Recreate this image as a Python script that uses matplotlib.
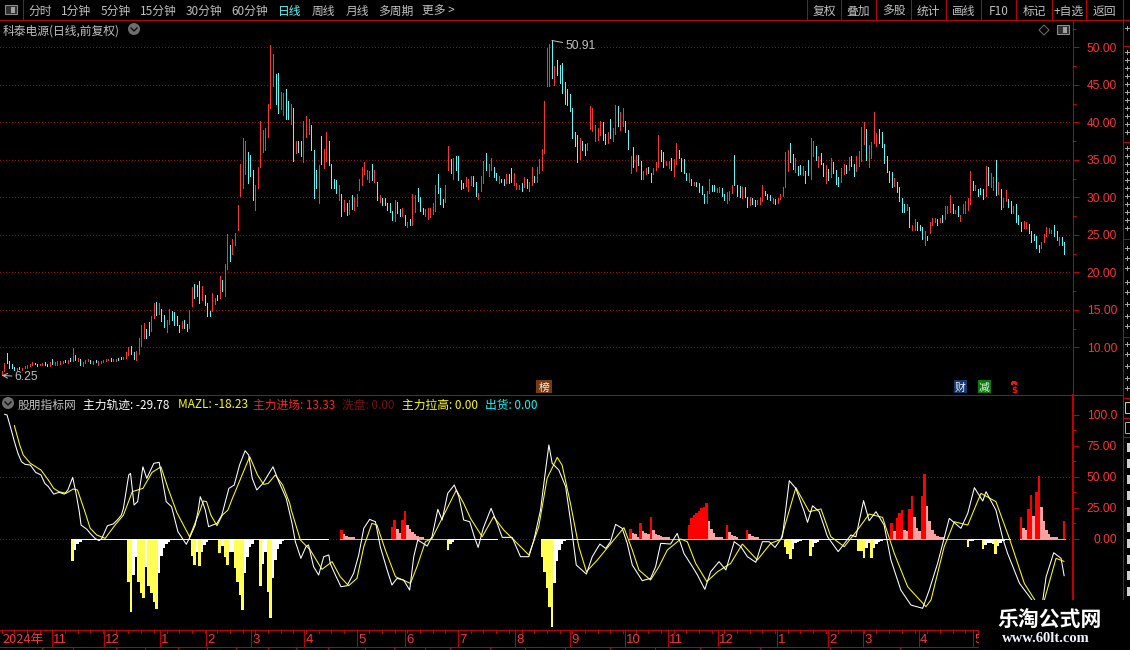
import matplotlib
matplotlib.use("Agg")
import matplotlib.pyplot as plt
from matplotlib.patches import Circle, Polygon, Rectangle

W, H = 1130, 650
CJK = ["Noto Sans CJK SC", "DejaVu Sans"]
NUM = ["Liberation Sans", "Noto Sans CJK SC"]
PX = 0.72  # one pixel in points at dpi 100

RED = "#ff3232"
AXIS_RED = "#c00000"
GRID_RED = "#a00000"
CYAN = "#54fcfc"
GREY = "#c0c0c0"

# candles
bar_low = [
    6.25,6.8,7.9,7.3,7.25,7.0,7.0,7.1,7.0,7.25,
    7.3,7.5,7.65,7.8,7.5,7.65,7.7,7.65,7.5,7.5,
    7.8,7.65,7.65,7.8,7.9,8.05,7.9,8.2,8.2,8.3,
    8.2,7.65,7.5,7.9,8.2,7.9,7.8,8.05,7.65,7.9,
    8.05,8.2,8.3,8.2,8.2,8.2,8.3,8.45,8.45,8.6,
    9.0,9.1,8.45,8.3,9.1,10.2,11.25,11.25,11.65,12.15,
    13.9,14.3,14.4,13.5,12.7,12.05,13.1,13.6,12.95,12.95,
    12.05,12.55,12.55,12.15,12.55,15.5,16.55,16.8,15.9,16.3,
    15.6,14.15,14.15,14.8,15.75,16.3,16.55,17.5,16.8,20.4,
    21.45,22.5,23.6,25.65,30.2,31.2,33.05,31.85,32.8,29.6,
    28.3,31.3,34.0,36.1,36.25,38.0,41.95,44.85,42.5,41.3,
    41.8,41.0,40.5,40.5,39.8,34.8,35.85,36.1,35.45,34.65,
    38.1,38.5,36.25,29.85,31.2,29.2,34.4,33.85,34.9,34.25,
    31.2,31.2,30.55,29.6,27.5,28.15,27.6,27.75,28.4,28.3,
    28.8,30.95,31.7,33.05,32.4,32.0,32.25,32.1,29.6,29.35,
    28.95,28.95,28.3,28.0,26.95,26.8,27.9,27.5,27.5,26.3,
    26.0,26.3,26.3,28.0,29.45,28.15,27.75,27.5,27.1,27.35,
    27.75,28.15,30.55,29.1,28.7,29.35,33.7,33.3,32.5,33.7,
    32.25,31.05,31.2,31.45,30.8,31.6,31.45,30.15,29.75,30.8,
    31.85,33.6,32.8,33.6,32.65,32.25,31.85,32.0,31.6,31.85,
    31.85,32.0,31.7,31.05,31.05,30.8,31.35,31.2,30.8,31.7,
    32.1,32.0,33.2,33.7,35.85,44.85,44.85,45.95,45.0,46.3,
    45.25,43.95,42.5,42.35,41.55,37.85,36.9,34.65,35.05,36.35,
    35.6,36.35,39.1,38.9,37.55,37.7,38.25,37.7,37.15,37.3,
    37.95,37.45,38.5,39.55,39.0,39.55,38.75,36.5,33.3,34.0,
    33.45,34.25,32.4,32.5,33.05,33.2,32.1,33.05,33.6,34.0,
    34.9,34.1,34.25,33.85,33.7,32.9,34.5,35.2,33.45,33.3,
    32.25,32.1,31.7,31.6,31.45,30.65,30.4,29.2,29.2,30.55,
    30.8,30.8,30.65,30.65,30.15,29.6,29.2,29.6,30.55,31.7,
    30.15,30.0,29.85,30.0,28.65,28.95,29.05,28.8,29.05,29.05,
    29.45,30.25,29.75,29.6,29.3,29.05,29.2,29.75,30.15,31.4,
    33.55,34.75,33.8,33.4,33.0,33.15,33.0,31.95,33.0,32.5,
    35.55,35.0,34.05,34.45,32.9,31.95,32.35,32.75,33.25,31.8,
    31.55,32.1,33.15,33.25,33.65,34.2,32.9,33.55,34.2,34.85,
    37.1,35.0,34.05,35.25,37.25,36.85,37.25,36.7,34.6,33.4,
    32.1,31.4,31.55,30.75,29.55,28.1,28.1,28.35,26.1,25.6,
    25.6,25.7,25.6,24.5,23.7,24.25,25.2,26.25,26.65,26.35,
    26.65,26.75,27.15,27.85,28.1,27.95,27.85,27.55,26.9,27.95,
    27.85,28.35,29.15,31.0,31.0,30.2,30.5,29.8,30.2,31.7,
    31.4,31.0,30.35,30.5,28.5,28.65,29.55,28.75,27.95,27.95,
    26.75,26.5,25.45,25.85,25.85,25.2,24.1,24.25,23.2,22.65,
    23.2,24.0,24.9,25.2,25.2,24.8,24.25,23.7,23.6,22.4,
]
bar_high = [
    6.8,7.9,9.2,8.2,7.8,7.4,7.25,7.4,7.25,7.5,
    7.65,7.8,8.05,7.9,7.8,7.8,7.85,8.05,7.8,8.05,
    8.45,8.05,8.2,8.2,8.2,8.3,8.3,8.6,9.9,9.0,
    8.6,8.45,8.05,8.3,8.45,8.3,8.2,8.3,8.2,8.2,
    8.3,8.45,8.45,8.6,8.45,8.45,8.6,8.7,8.7,9.4,
    10.05,10.2,9.4,9.5,11.25,12.95,13.25,12.45,13.35,14.15,
    15.9,16.0,15.9,15.1,14.3,13.6,15.1,14.8,14.7,14.15,
    12.95,13.5,13.6,13.1,14.95,18.0,18.4,18.3,18.8,18.15,
    16.95,15.9,14.8,17.2,16.55,16.95,19.45,18.95,21.05,25.05,
    23.6,24.5,25.3,28.95,34.5,37.85,37.45,36.0,35.6,33.7,
    31.7,34.0,40.2,39.0,39.3,42.5,50.3,49.1,46.45,46.6,
    44.05,43.95,44.45,42.9,42.5,41.95,37.55,37.55,37.55,40.2,
    40.9,40.5,39.7,36.25,33.6,34.25,38.2,36.5,38.65,37.55,
    34.4,32.4,32.25,31.7,30.4,29.6,29.2,29.6,30.25,30.0,
    30.4,32.5,34.0,34.65,33.7,33.45,34.4,33.6,32.0,30.25,
    29.85,29.85,29.2,29.2,28.15,29.6,29.35,28.4,28.55,27.6,
    26.7,27.1,30.4,30.25,31.2,30.0,28.55,28.4,28.55,28.55,
    29.2,31.6,33.05,31.3,29.75,31.6,36.8,35.05,35.3,35.45,
    35.45,32.25,31.85,32.65,32.4,32.8,32.9,32.0,30.55,32.8,
    34.9,35.85,34.5,35.2,34.0,33.2,32.9,32.5,32.5,33.05,
    33.05,33.85,33.3,31.85,31.7,31.85,32.65,32.5,32.0,34.0,
    32.9,34.1,35.05,36.5,42.9,49.9,50.45,50.91,47.5,48.3,
    47.65,47.9,45.4,44.45,43.8,41.95,38.65,38.25,37.95,37.55,
    37.05,37.3,42.2,41.95,39.7,39.3,40.2,40.1,38.5,38.75,
    40.5,39.3,42.35,42.2,41.4,41.95,40.2,39.0,35.45,36.65,
    35.6,35.6,34.8,33.45,33.85,34.0,33.3,33.85,34.65,38.35,
    36.35,36.1,34.9,34.8,35.3,35.05,37.3,36.25,35.3,35.05,
    33.2,33.3,32.5,32.1,32.0,31.85,31.45,30.4,30.8,32.4,
    31.7,31.6,31.2,31.35,31.2,30.4,30.65,30.8,31.6,35.7,
    31.7,31.45,31.35,31.35,30.0,30.0,29.85,29.6,29.6,30.0,
    31.6,30.8,30.4,30.25,29.85,29.75,29.85,30.4,31.35,36.05,
    36.35,37.25,35.8,35.25,34.2,34.35,34.2,33.55,35.0,37.9,
    37.5,36.85,35.55,35.95,34.6,34.35,33.8,35.25,34.75,33.65,
    32.75,33.95,34.45,34.35,35.4,35.55,34.45,35.55,36.2,39.4,
    40.05,39.1,37.0,37.4,41.35,38.6,39.1,38.7,37.1,35.55,
    33.55,33.4,32.6,32.1,31.4,29.95,29.15,29.15,28.75,26.35,
    27.05,26.65,26.35,26.1,25.45,24.9,26.75,27.3,27.3,27.05,
    27.3,27.7,28.9,28.9,30.35,29.05,28.35,28.9,27.7,29.05,
    29.55,29.95,33.55,32.2,31.7,31.15,31.3,31.15,34.2,34.05,
    33.25,32.75,35.0,32.1,31.15,29.95,31.0,29.8,29.55,28.9,
    29.05,27.7,26.75,26.9,26.65,26.5,25.45,25.05,24.8,23.6,
    24.0,25.05,26.1,25.85,25.7,26.25,25.45,24.65,24.65,24.0,
]
bar_up = [
    1,1,0,0,0,0,1,0,1,1, 1,1,1,0,0,1,1,0,0,1, 0,1,1,1,1,0,1,0,1,0,
    1,0,1,1,1,0,1,0,1,1, 1,1,1,0,1,1,0,0,1,1, 1,0,0,1,1,1,1,0,0,1,
    1,0,1,0,0,1,1,0,0,0, 0,1,0,0,1,1,0,0,0,1, 0,0,0,1,1,0,1,0,1,1,
    0,1,1,1,1,1,1,0,0,0, 1,1,1,1,1,1,1,1,0,0, 1,1,0,0,1,0,1,0,0,1,
    1,1,0,0,0,1,0,1,1,0, 0,0,0,1,0,1,0,1,0,1, 1,1,1,1,1,1,0,1,0,1,
    0,0,0,0,0,1,0,0,1,0, 1,0,1,1,0,0,0,1,1,1, 1,1,0,0,0,1,1,0,1,0,
    0,0,0,1,1,1,0,0,1,1, 1,0,1,1,0,0,1,0,0,1, 0,0,1,1,1,0,1,0,1,1,
    0,1,1,1,1,1,1,0,1,0, 0,0,0,0,0,0,0,0,1,0, 0,1,1,1,1,1,1,0,0,1,
    0,1,1,0,1,1,0,0,1,0, 1,0,0,1,1,0,0,1,1,1, 0,0,1,1,0,1,1,0,0,0,
    0,1,0,1,0,0,0,0,1,1, 0,0,1,1,0,0,1,1,1,0, 0,0,1,0,0,1,0,0,1,1,
    1,0,0,0,1,0,1,1,1,1, 1,0,0,1,0,0,1,0,0,1, 1,0,1,0,0,1,0,1,0,0,
    0,1,1,0,1,0,0,1,1,1, 1,0,1,1,1,1,0,0,0,0, 0,0,1,0,0,0,0,1,0,1,
    1,0,0,0,1,0,1,1,1,0, 1,0,1,1,1,0,1,0,1,1, 1,1,1,0,1,0,0,0,1,0,
    1,1,0,1,0,1,1,0,0,1, 0,0,0,1,1,0,0,0,0,0, 1,1,1,1,1,0,0,1,0,0,
]
low_price = 6.25
high_price = 50.91
y_ticks = [10, 15, 20, 25, 30, 35, 40, 45, 50]
y_tick_labels = ["10.00", "15.00", "20.00", "25.00", "30.00", "35.00", "40.00", "45.00", "50.00"]

# indicator pane
main_x = [
    1.2,2.1,3.6,5,6.4,7.8,9.2,11.3,13.4,15.5,17,18.4,20.5,22.6,24.7,26.1,28,29.4,30.6,31.3,
    33.6,34.9,36.8,38.4,39.5,41.7,44,46,47.2,48,50.1,50.8,52.2,53.6,55.7,57.2,60,62.1,63.5,64.9,
    67,69.5,72.8,74.3,76.3,77.5,78.3,79.5,80.3,81.6,84.9,86.8,89.6,91.7,93.8,96,97.4,98.8,100.6,103,
    107,109.3,112.2,114.5,115.8,118,120,121,123,125,127,129,129.6,131.6,133.8,136.2,138.8,140.8,142.8,145.1,
    147.4,149.3,152,153.9,155.9,158.5,160.9,162.5,164.1,167.8,169.7,172,173.7,175.9,178.5,180.3,182.2,184.6,186.4,187.9,
    189.9,193,195.4,197.4,201.3,204.6,207.9,209.9,212.5,214.5,215.8,217.1,219.7,222.4,224.3,226.6,230.6,232.9,235.9,238.2,
    240.1,242.1,244.7,246.7,248.7,252.6,255.9,257.9,259.9,263.8,266.4,269.1,272.4,274.4,277.3,279.6,282.9,285.6,288.9,291.5,
    294.1,297.4,300,302.7,305,307.9,310.6,313.2,316.5,317.8,319.8,322.4,325.7,329.9,334.9,336.9,339.9,342.1,344.8,348,
    350.7,354.6,358.6,363.2,365.8,369.1,373.7,378.3,381,383.6,386.9,388.2,392.1,394.8,396.7,401.4,407.3,408.9,410.6,411.9,
    414.9,417.8,419,
]
main_y = [
    100.3,99.8,89,78.3,68.9,62.1,60,59.4,53.5,51.4,44.6,42,36,37.4,36,39.3,49.5,35.8,21.8,11,
    7.6,4.3,0.3,-1.6,0.3,10.5,11.9,16,19.1,24.5,51.4,52.7,27.2,29.9,58,48.7,60.8,61.6,46,29.9,
    25.8,5.7,-4.5,1.6,11,23,33.9,28,23.1,9.7,12.4,19,40.6,43.3,59.4,71,67.5,48.7,39.3,44.6,
    58,46,32.6,12.4,-2.4,-15.8,-6.4,-5,-22.5,-29.3,-14.5,-13.1,-20,-29.3,-38.7,-37.9,-27.9,-13.1,8.4,15.6,
    13.7,-6.4,-25.2,-37.3,-32,-33.3,-41.4,-14.5,-1,-5.9,1.6,23.7,15.1,36.6,43.3,33.9,15.1,13.7,1.6,-7,
    8.4,24.5,12.4,1.1,1.1,-14.5,-14.5,-1,23.1,55.4,75.6,60.8,55.4,42,15.1,-21.2,-28.5,-14.5,-4.3,-7.8,
    -2.4,11.6,8.4,-3.7,-21.2,-33.8,-32,-22.5,-3.7,-4.3,4.3,-12,-22.5,-29.3,-40.8,-26.6,-18.5,-25.2,-2.4,-6.4,
    -14.5,-19,-2.4,-2.4,-7,1.6,46.8,40.6,21.8,13.2,26.6,21.8,1.6,-10.4,3,1.6,30.7,14.5,21.8,11,
    -17.2,-41.4,-53.5,-56.1,-41.4,-19.9,16.4,8.4,20.5,41.2,30.4,37.9,23.1,0.3,-11.8,-36,-52.1,-57.5,-49.4,-30.6,
    -11.3,-15.8,-29.78,
]
mazl_x = [
    5,7.1,8.5,11.3,15.5,18.4,20.5,22.6,25.4,28.2,29.9,32.6,34.9,37.5,40.8,44.7,48,51.5,55.7,59.3,
    62.8,65.6,69.1,74.1,78.3,79.5,80.8,82.5,84.9,87,89.2,91,97.8,100.9,103.3,105.1,107.9,110.8,113.6,114.2,
    117.8,121.7,126.3,130.3,133.5,136.8,140.1,142.8,146,148,151.3,155.3,161.2,163.8,167.1,169.7,175,179.3,182.2,184.9,
    189.5,194,198,203.3,207.9,211.8,215.1,219.1,221,224.3,227.6,230.6,234.9,241.4,245.4,248.7,251.3,255.9,259.2,262.5,
    267.8,270.4,273.7,278.1,282.3,287.5,292.1,298,303.3,307.3,309.9,313.2,318.5,323.1,327,332.3,337.5,342.1,347.4,352,
    357.3,364.5,366.5,371.7,375.7,381,386.2,392.1,397.4,403.3,407.3,409.3,411.2,415.8,418.9,
]
mazl_y = [
    91.2,75.6,67.5,60.8,55.4,47.3,40.6,37.9,36.6,40.1,39.3,23.1,8.4,3,0.3,11,19,38,40.6,53.5,
    58,40.6,21,1.6,23.1,30.4,29.9,19,10.5,19,23.1,32.6,66.2,51.4,43.8,44.6,51.4,43.3,28.5,23.1,
    -1,-9.1,-24.7,-18.5,-30.6,-37.9,-32,-6.4,12.4,11,-9.1,-30.6,-36,-22.5,-2.4,0.3,21.8,39.3,28.5,16.4,
    1.6,17.8,7,-3.7,-13.1,9.7,48.7,65.6,59.4,28.5,-6.4,-26.6,-17.2,-1,8.9,-9.1,-25.2,-33.3,-22.5,-9.1,
    -0.2,-2.4,-19.9,-34.6,-26.6,-19.9,-4.3,-17.2,-3.7,-0.5,17.8,41.2,21.8,24,1.6,-6.4,7,19.9,17.2,-11.8,
    -38.7,-54.8,-49.4,-6.4,13.7,11,36.6,29.9,0.3,-36,-48.9,-57,-49.4,-15.8,-18.23,
]
red_idx = [134,154,155,158,159,248,252,256,271,272,273,274,275,276,277,278,286,294,351,353,354,355,358,359,363,364,402,405,406,408,409,419]
red_val = [7,9.4,15,15,22,7.8,12.4,17.5,11,16.4,19,21,22.6,24.5,25.8,28.5,11,7,12.4,17,20.4,23,24,34.4,34.4,52,17.2,24,35,37.7,50.6,14]
pink_idx = [135,136,137,138,139,156,157,160,161,162,163,164,165,166,249,250,251,253,254,255,257,258,259,260,261,262,263,279,280,281,282,283,284,287,288,289,290,295,296,297,298,352,356,357,360,361,362,365,366,367,368,369,370,371,403,404,407,410,411,412,413,414,415,416]
pink_val = [3.8,2.2,1.6,1.3,1.1,7.8,4.8,11,7.5,5.6,3.8,2.4,1.6,1.3,4.3,3.5,1.6,6.5,4.3,3.8,7,3.5,2.7,2.2,1.6,1.3,1,14,7.8,4.3,1.6,1.3,1.3,5.4,3.2,2.2,1.3,3.8,2.2,1.3,1.3,6.5,7,6.5,17.2,9,6,26,14,7,3.8,2.4,1.6,1.3,9,7,18.3,25.6,14,7,3.5,1.6,1.1,1]
yellow_idx = [28,50,51,54,55,56,58,59,60,61,75,76,78,86,88,89,92,93,94,95,102,105,106,176,213,214,215,216,217,309,310,311,319,338,339,340,343,381,387,392]
yellow_val = [-18.3,-35,-59,-35,-44,-48,-38,-44,-51,-57,-14,-21.5,-22,-11.6,-14.8,-21.5,-23.4,-35,-45.7,-57.8,-38.5,-43,-64,-9,-14.5,-27,-40,-55,-71,-6.5,-12,-16,-14,-9.7,-9.7,-15.6,-15.6,-6.5,-8,-12.4]
white_idx = [29,30,31,32,52,53,57,62,63,64,65,66,67,77,79,80,81,82,87,90,91,96,97,98,99,100,103,104,107,108,109,110,111,177,178,179,218,219,220,221,222,223,312,313,314,315,316,320,321,322,323,341,342,344,345,346,347,348,382,383,384,388,389,390,391,393,394,395,396]
white_val = [-9.4,-4,-2.7,-1.3,-29.6,-14.8,-23,-28,-14,-7.3,-4,-2.7,-1.3,-10.8,-10.8,-5.4,-2.7,-1.3,-6.2,-10.8,-10.8,-28,-14.8,-6.7,-4,-1.3,-20,-10.8,-32,-17,-8,-4,-1.9,-4.6,-2.4,-1,-35.5,-17.8,-9,-4.3,-2,-1,-8.3,-3.8,-2.7,-1.6,-1,-6.5,-3.8,-2.4,-1,-7.3,-3.8,-7.8,-4.3,-2.4,-1.6,-1,-1.6,-1.6,-1,-5.4,-3.5,-3.8,-4,-6,-3.2,-1.9,-1]
white_spans = [(28, 128), (176, 195), (213, 239), (309, 349), (381, 397)]
pink_spans = [(134, 175), (248, 308), (351, 380), (402, 419)]
ind_ticks = [0, 25, 50, 75, 100]
ind_tick_labels = ["0.00", "25.00", "50.00", "75.00", "100.0"]

# time ruler
month_idx = [19.9,40.4,62.5,80.7,98.4,119.4,140.3,159.2,179.8,202.3,224,245.7,262.7,282.4,305.7,325.8,339.6,361.7,383]
month_labels = ["11","12","1","2","3","4","5","6","7","8","9","10","11","12","1","2","3","4","5"]

# toolbar text
left_tabs = ["分时","1分钟","5分钟","15分钟","30分钟","60分钟","日线","周线","月线","多周期","更多 >"]
left_tab_x = [28,61,101,140,186,231,278,312,346,378,422]
right_tabs = ["复权","叠加","多股","统计","画线","F10","标记","+自选","返回"]
right_edges = [807,841,876,911,946,981,1016,1052,1086,1123]

# legend of the indicator pane
legend_text = ["股朋指标网","主力轨迹: -29.78","MAZL: -18.23","主力进场: 13.33","洗盘: 0.00","主力拉高: 0.00","出货: 0.00"]
legend_x = [18,83,177.5,253,342,402,485]
legend_col = [GREY,"#ffffff","#ffff00","#ff2020","#701010","#ffff00","#00ffff"]


def px_box(left, top, right, bottom):
    return [left / W, 1 - bottom / H, (right - left) / W, (bottom - top) / H]


def style_pane(ax):
    ax.set_facecolor("black")
    ax.set_xlim(-0.67, 422.5)
    ax.set_xticks([])
    for side in ["left", "top", "bottom"]:
        ax.spines[side].set_visible(False)
    ax.spines["right"].set_color(AXIS_RED)
    ax.yaxis.tick_right()
    ax.tick_params(axis="y", which="major", length=6 * PX, width=PX, color=AXIS_RED,
                   labelcolor=RED, pad=38 * PX)
    ax.tick_params(axis="y", which="minor", length=3 * PX, width=PX, color=AXIS_RED)


def set_labels(ax, ticks, labels):
    ax.set_yticks(ticks)
    ax.set_yticklabels(labels, family=NUM, fontsize=8.64, ha="right")


def dotted(ax, value):
    # one pixel dots, three pixels apart (2.533 px per bar)
    xs = [-0.67 + i * 3 / 2.533 for i in range(357)]
    ax.plot(xs, [value] * len(xs), linestyle="none", marker="s", markersize=PX, markeredgewidth=0,
            color=GRID_RED, zorder=0.5, clip_on=True)


fig = plt.figure(figsize=(W / 100, H / 100), dpi=100, facecolor="black")

# price pane
ax = fig.add_axes(px_box(0, 20, 1073, 394))
style_pane(ax)
ax.set_ylim(3.77, 53.64)
set_labels(ax, y_ticks, y_tick_labels)
ax.set_yticks([t + 2.5 for t in y_ticks], minor=True)
ax.spines["right"].set_linewidth(PX)
for t in y_ticks:
    dotted(ax, t)
ax.vlines(range(len(bar_low)), bar_low, bar_high,
          colors=[RED if u else CYAN for u in bar_up], linewidth=PX, antialiased=False)
ax.annotate(f"{low_price:.2f}", xy=(0, low_price), xytext=(13, -1.5), textcoords="offset pixels",
            color=GREY, family=NUM, fontsize=8.64, va="center",
            arrowprops=dict(arrowstyle="->", color=GREY, lw=PX, shrinkA=0, shrinkB=0))
ax.annotate(f"{high_price:.2f}", xy=(217, high_price), xytext=(13.5, -5.5), textcoords="offset pixels",
            color=GREY, family=NUM, fontsize=8.64, va="center",
            arrowprops=dict(arrowstyle="-", color=GREY, lw=PX, shrinkA=0, shrinkB=0))

# indicator pane
ax2 = fig.add_axes(px_box(0, 395, 1073, 630))
style_pane(ax2)
ax2.set_ylim(-73.6, 115.9)
set_labels(ax2, ind_ticks, ind_tick_labels)
ax2.set_yticks([t + 12.5 for t in ind_ticks[:-1]], minor=True)
ax2.spines["right"].set_linewidth(2 * PX)
dotted(ax2, 50)
dotted(ax2, 0)
ax2.bar(red_idx, red_val, width=1, color="#ff0000", linewidth=0, antialiased=False)
ax2.bar(pink_idx, pink_val, width=1, color="#ffa0a0", linewidth=0, antialiased=False)
ax2.bar(yellow_idx, yellow_val, width=1, color="#ffff54", linewidth=0, antialiased=False)
ax2.bar(white_idx, white_val, width=1, color="#ffffff", linewidth=0, antialiased=False)
for a, b in white_spans:
    ax2.hlines(0, a - 0.5, b + 0.5, color="#ffffff", linewidth=PX, antialiased=False)
for a, b in pink_spans:
    ax2.hlines(0, a - 0.5, b + 0.5, color="#ffa0a0", linewidth=PX, antialiased=False)
ax2.plot(mazl_x, mazl_y, color="#ffff00", linewidth=1.05 * PX, antialiased=True)
ax2.plot(main_x, main_y, color="#ffffff", linewidth=1.05 * PX, antialiased=True)

# time ruler
ax3 = fig.add_axes(px_box(0, 630, 1073, 647))
ax3.set_facecolor("black")
ax3.set_xlim(-0.67, 422.5)
ax3.set_ylim(1, 0)
ax3.set_yticks([])
for side in ["left", "right"]:
    ax3.spines[side].set_visible(False)
for side in ["top", "bottom"]:
    ax3.spines[side].set_color(AXIS_RED)
    ax3.spines[side].set_linewidth(PX)
ax3.set_xticks([])
ax3.vlines(month_idx, 0, 1, color=AXIS_RED, linewidth=PX, antialiased=False)
ax3.vlines([i * 5 for i in range(85)], 0, 0.18, color=AXIS_RED, linewidth=PX, antialiased=False)
ax3.text(0.5, 0.5, "2024年", color=RED, family=CJK, fontsize=9.2, va="center_baseline")
for m, lab in zip(month_idx, month_labels):
    ax3.text(m + 0.5, 0.5, lab, color=RED, family=NUM, fontsize=9.5, va="center_baseline")

# chrome on top, in pixel coordinates
ov = fig.add_axes([0, 0, 1, 1], zorder=10)
ov.set_xlim(0, W)
ov.set_ylim(H, 0)
ov.axis("off")
ov.patch.set_alpha(0)


def seg(x0, y0, x1, y1, color=AXIS_RED, lw=PX):
    ov.plot([x0, x1], [y0, y1], color=color, linewidth=lw, antialiased=False, solid_capstyle="butt")


def icon_box(x, y):
    ov.add_patch(Rectangle((x - 6, y - 4.5), 12, 9, facecolor="#303030", edgecolor="#8a8a8a", linewidth=1.1 * PX))
    ov.add_patch(Rectangle((x, y - 3), 4, 6, facecolor="#a0a0a0", linewidth=0))


def round_menu(x, y):
    ov.add_patch(Circle((x, y), 6, facecolor="#6e6e6e", linewidth=0))
    ov.plot([x - 3, x, x + 3], [y - 1, y + 2, y - 1], color="#101010", linewidth=1.4 * PX)


seg(0, 19.5, 1130, 19.5)
seg(0, 394.5, 1123, 394.5)
seg(23, 0, 23, 19.5)
seg(1123, 0, 1123, 600)
for x in right_edges:
    seg(x, 0, x, 19.5)
icon_box(11, 9.5)
for tx, lab in zip(left_tab_x, left_tabs):
    ov.text(tx, 10, lab, color=CYAN if lab == "日线" else GREY, family=CJK, fontsize=8.5, va="center_baseline")
for i, lab in enumerate(right_tabs):
    ov.text((right_edges[i] + right_edges[i + 1]) / 2, 10, lab, color=GREY, family=CJK,
            fontsize=8.5, ha="center", va="center_baseline")

ov.text(3, 29.5, "科泰电源(日线,前复权)", color=GREY, family=CJK, fontsize=8.5, va="center_baseline")
round_menu(134, 29)
ov.add_patch(Polygon([(1044, 25), (1049, 30), (1044, 35), (1039, 30)], fill=False, edgecolor="#707070", linewidth=PX))
icon_box(1063, 29.6)

# event tags above the pane border
for x0, x1, col, lab in [(536, 552, "#7a3a10", "榜"), (954, 967, "#123a70", "财"), (978, 991, "#0a7a0a", "减")]:
    ov.add_patch(Rectangle((x0, 380), x1 - x0, 13, facecolor=col, linewidth=0))
    ov.text((x0 + x1) / 2, 386.5, lab, color="#f0f0f0", family=CJK, fontsize=7.8, ha="center", va="center_baseline")
ov.text(1014, 389, "$", color="#ff1010", family="DejaVu Sans", fontsize=6.5, fontweight="bold", ha="center", va="center_baseline")
ov.plot([1012, 1014, 1016], [383.5, 381.5, 383.5], color="#ff1010", linewidth=PX, antialiased=False)

# legend of the indicator pane
round_menu(8, 403)
for lx, lab, col in zip(legend_x, legend_text, legend_col):
    ov.text(lx, 403.5, lab, color=col, family=CJK, fontsize=8.5, va="center_baseline")

# cut-off side panel on the far right, too narrow to read
for y in [19.5, 46, 142, 239, 337, 398, 418, 437]:
    seg(1123, y, 1130, y)
side_y = [28, 52, 60, 68, 76, 84, 92, 100, 108, 116, 124, 132, 148, 156, 164, 172, 180, 188, 196, 204, 212, 220, 228,
          248, 258, 268, 282, 292, 304, 316, 326, 344, 354, 366, 378, 388]
for y in side_y:
    ov.add_patch(Rectangle((1125, y), 5, 1.2, facecolor="#a8a8a8", linewidth=0))
    ov.add_patch(Rectangle((1127, y - 2.5), 1, 5, facecolor="#a8a8a8", linewidth=0))
ov.add_patch(Rectangle((1125, 402), 5, 11, facecolor="none", edgecolor="#d8d820", linewidth=PX))
ov.add_patch(Rectangle((1125, 422), 5, 11, facecolor="none", edgecolor="#a8a8a8", linewidth=PX))
for i in range(10):
    ov.add_patch(Rectangle((1127, 443 + i * 16), 3, 9, facecolor="#d0d0d0", linewidth=0))

# bottom row, only its first pixels show
for x in [42, 73, 116, 145, 178, 207, 236, 268, 296, 328, 365, 394, 425, 450, 490, 525, 565, 610, 655, 700, 760, 830, 900]:
    seg(x, 647, x, 650)

# watermark box
ov.add_patch(Rectangle((979, 600), W - 979, H - 600, facecolor="black", linewidth=0, zorder=5))
ov.text(1049.5, 619, "乐淘公式网", color="#ffffff", family=CJK, fontsize=15, fontweight="bold",
        ha="center", va="center", zorder=6)
ov.text(1046, 639, "www.60lt.com", color="#f0f4ff", family="Liberation Serif", fontsize=10.5, fontweight="bold",
        ha="center", va="center", zorder=6)

fig.savefig("out.png", dpi=100, facecolor="black")
plt.close(fig)
